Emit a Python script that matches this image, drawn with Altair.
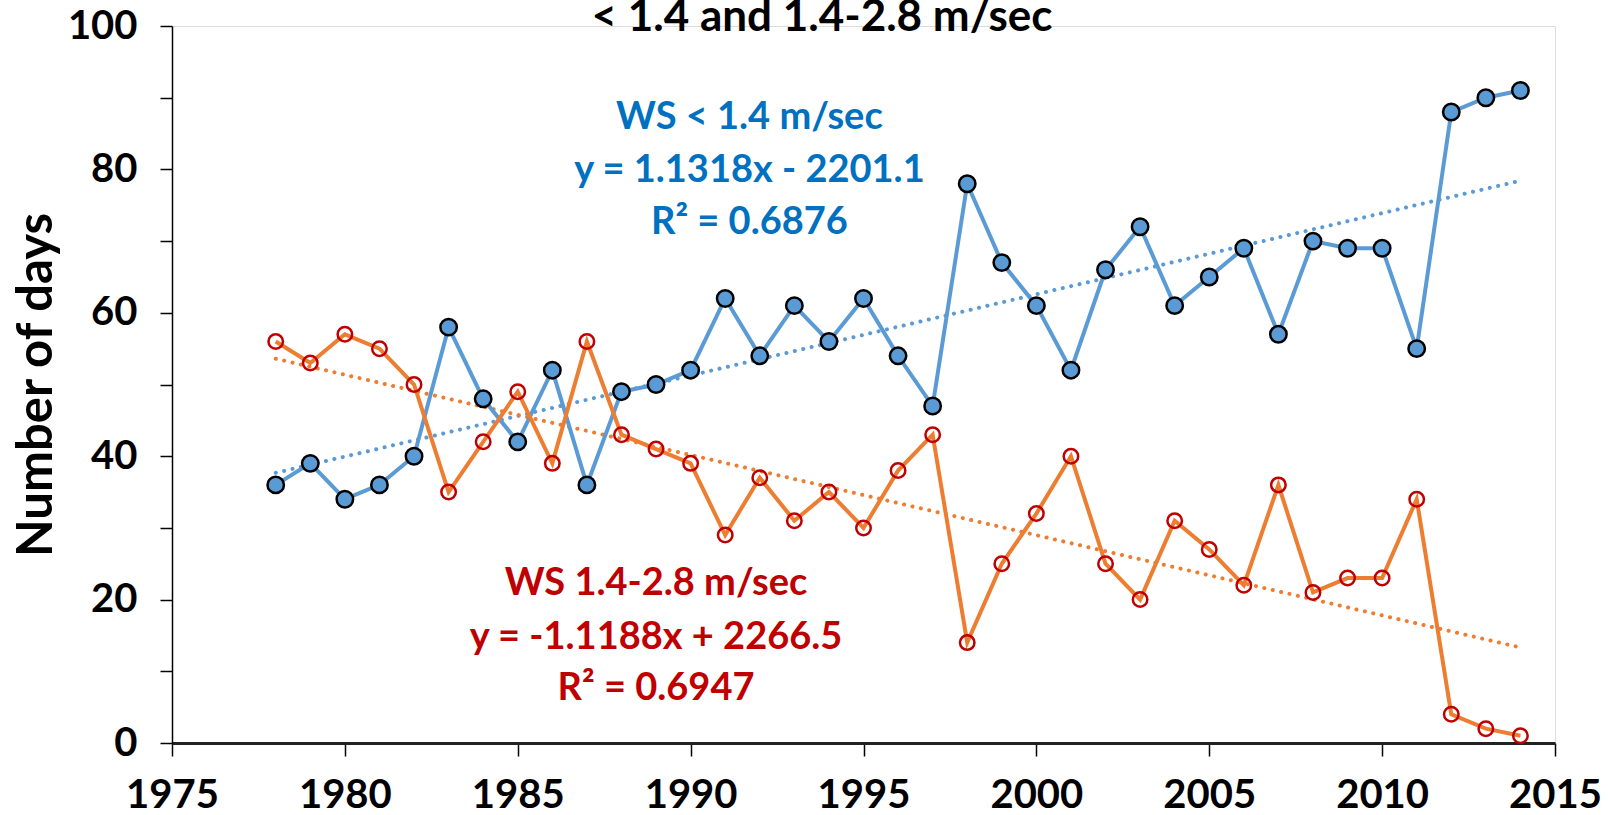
import altair as alt
import pandas as pd

years = list(range(1978, 2015))
ws_low = [36, 39, 34, 36, 40, 58, 48, 42, 52, 36, 49, 50, 52, 62, 54, 61, 56, 62, 54, 47,
          78, 67, 61, 52, 66, 72, 61, 65, 69, 57, 70, 69, 69, 55, 88, 90, 91]
ws_mid = [56, 53, 57, 55, 50, 35, 42, 49, 39, 56, 43, 41, 39, 29, 37, 31, 35, 30, 38, 43,
          14, 25, 32, 40, 25, 20, 31, 27, 22, 36, 21, 23, 23, 34, 4, 2, 1]

x_ticks = [1975, 1980, 1985, 1990, 1995, 2000, 2005, 2010, 2015]
y_ticks = [0, 10, 20, 30, 40, 50, 60, 70, 80, 90, 100]

ann_text = ["WS < 1.4 m/sec", "y = 1.1318x - 2201.1", "R\u00b2 = 0.6876",
            "WS 1.4-2.8 m/sec", "y = -1.1188x + 2266.5", "R\u00b2 = 0.6947"]
ann_x = [1991.7, 1991.7, 1991.7, 1989.0, 1989.0, 1989.0]
ann_y = [87.1, 79.8, 72.5, 22.2, 14.6, 7.5]
ann_color = ["#0070C0"] * 3 + ["#C00000"] * 3

title_text = ["< 1.4 and 1.4-2.8 m/sec"]
title_x = [1993.8]
title_y = [99.3]

FONT = "Lato"
BLUE = "#5B9BD5"
ORANGE = "#ED7D31"
RED = "#C00000"

df_low = pd.DataFrame({"year": years, "days": ws_low})
df_mid = pd.DataFrame({"year": years, "days": ws_mid})
df_ann = pd.DataFrame({"x": ann_x, "y": ann_y, "text": ann_text, "color": ann_color})
df_title = pd.DataFrame({"x": title_x, "y": title_y, "text": title_text})

x_enc = alt.X("year:Q", scale=alt.Scale(domain=[1975, 2015], nice=False, zero=False),
              axis=alt.Axis(values=x_ticks, format="d", title=None, grid=False,
                            labelFlush=False, labelOverlap=False,
                            labelFont=FONT, labelFontSize=40, labelFontWeight="bold",
                            labelColor="black", labelPadding=19, tickSize=13,
                            tickColor="black", tickWidth=1.5, domainColor="#222222",
                            domainWidth=3))
y_enc = alt.Y("days:Q", scale=alt.Scale(domain=[0, 100], nice=False),
              axis=alt.Axis(values=y_ticks, title="Number of days", grid=False,
                            labelExpr="datum.value % 20 == 0 ? datum.label : ''",
                            labelFlush=False, labelOverlap=False,
                            labelFont=FONT, labelFontSize=40, labelFontWeight="bold",
                            labelColor="black", labelPadding=23, tickSize=12,
                            tickColor="black", tickWidth=1.5, domainColor="black",
                            domainWidth=1.5, titleFont=FONT, titleFontSize=49,
                            titleFontWeight="bold", titleColor="black", titlePadding=6))

base_low = alt.Chart(df_low)
base_mid = alt.Chart(df_mid)

trend_low = base_low.transform_regression("year", "days", method="linear").mark_line(
    color=BLUE, strokeWidth=4, strokeDash=[0.1, 8.5], strokeCap="round"
).encode(x=x_enc, y=y_enc)
trend_mid = base_mid.transform_regression("year", "days", method="linear").mark_line(
    color=ORANGE, strokeWidth=4, strokeDash=[0.1, 8.5], strokeCap="round"
).encode(x=x_enc, y=y_enc)

line_low = base_low.mark_line(color=BLUE, strokeWidth=4).encode(x=x_enc, y=y_enc)
pts_low = base_low.mark_point(shape="circle", filled=True, fill=BLUE, stroke="black",
                              strokeWidth=2.5, size=270, opacity=1).encode(x=x_enc, y=y_enc)
line_mid = base_mid.mark_line(color=ORANGE, strokeWidth=4).encode(x=x_enc, y=y_enc)
pts_mid = base_mid.mark_point(shape="circle", filled=False, stroke=RED, strokeWidth=2.5,
                              size=210, opacity=1).encode(x=x_enc, y=y_enc)

ann = alt.Chart(df_ann).mark_text(font=FONT, fontSize=38, fontWeight="bold",
                                  align="center", baseline="middle").encode(
    x=alt.X("x:Q"), y=alt.Y("y:Q"), text="text:N",
    color=alt.Color("color:N", scale=None))

title = alt.Chart(df_title).mark_text(font=FONT, fontSize=44, fontWeight="bold",
                                      align="center", baseline="alphabetic",
                                      color="black").encode(
    x=alt.X("x:Q"), y=alt.Y("y:Q"), text="text:N")

chart = alt.layer(trend_low, trend_mid, line_low, line_mid, pts_low, pts_mid, ann, title).properties(
    width=1383, height=717,
    autosize=alt.AutoSizeParams(type="none"),
    padding={"left": 172, "top": 26, "right": 55, "bottom": 72},
).configure_view(stroke=None).configure(background="white")

chart.save("out.html", embed_options={"renderer": "svg", "actions": False})
